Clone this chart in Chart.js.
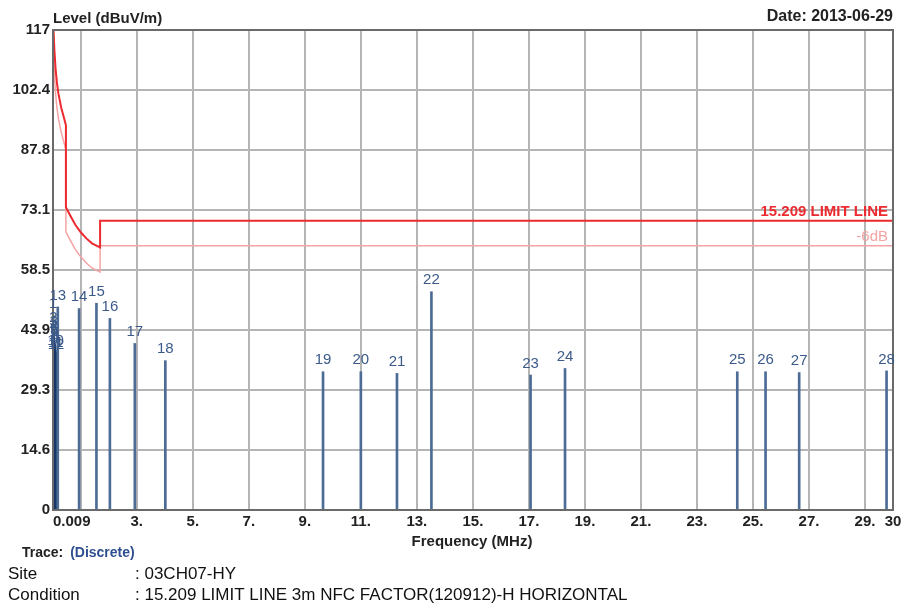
<!DOCTYPE html>
<html>
<head>
<meta charset="utf-8">
<script src="https://cdn.jsdelivr.net/npm/chart.js@4.4.0/dist/chart.umd.min.js"></script>
<style>
  html, body { margin: 0; padding: 0; background: #fff; }
  #wrap { width: 907px; height: 607px; position: relative; }
</style>
</head>
<body>
<div id="wrap"><canvas id="chart" width="907" height="607"></canvas></div>
<script>
// axis ticks
var Y_TICKS = [0, 14.6, 29.3, 43.9, 58.5, 73.1, 87.8, 102.4, 117];
var Y_TICK_LABELS = ['0', '14.6', '29.3', '43.9', '58.5', '73.1', '87.8', '102.4', '117'];
var X_TICKS = [0.009, 1, 3, 5, 7, 9, 11, 13, 15, 17, 19, 21, 23, 25, 27, 29, 30];
var X_TICK_LABELS = ['0.009', '', '3.', '5.', '7.', '9.', '11.', '13.', '15.', '17.', '19.', '21.', '23.', '25.', '27.', '29.', '30'];

// 15.209 limit line and the -6dB line (MHz / dBuV/m)
var LIMIT_FREQ = [0.009, 0.02, 0.034, 0.06, 0.1, 0.15, 0.2, 0.3, 0.4, 0.47, 0.47, 0.6, 0.8, 1.0, 1.2, 1.4, 1.69, 1.69, 30];
var LIMIT_LEVEL = [128.5, 121.6, 117.0, 112.0, 107.6, 104.1, 101.6, 98.1, 95.6, 93.8, 73.8, 72.1, 69.6, 67.7, 66.2, 65.0, 64.0, 70.5, 70.5];
var LIMIT6_LEVEL = [122.5, 115.6, 111.0, 106.0, 101.6, 98.1, 95.6, 92.1, 89.6, 87.8, 67.8, 66.1, 63.6, 61.7, 60.2, 59.0, 58.0, 64.4, 64.4];

// discrete trace markers
var MARKER_NO = [1, 2, 3, 4, 5, 6, 7, 8, 9, 10, 11, 12, 13, 14, 15, 16, 17, 18, 19, 20, 21, 22, 23, 24, 25, 26, 27, 28];
var MARKER_FREQ = [0.012, 0.02, 0.03, 0.04, 0.05, 0.06, 0.07, 0.08, 0.09, 0.1, 0.11, 0.12,
  0.18, 0.94, 1.56, 2.04, 2.93, 4.02, 9.65, 11.0, 12.29, 13.52, 17.06, 18.29, 24.44, 25.45, 26.65, 29.77];
var MARKER_LEVEL = [47.5, 44.0, 43.0, 42.0, 41.0, 40.5, 40.0, 39.5, 39.0, 38.5, 38.0, 37.5,
  49.5, 49.1, 50.4, 46.7, 40.6, 36.4, 33.7, 33.7, 33.3, 53.2, 32.9, 34.5, 33.7, 33.7, 33.5, 33.9];

var FONT = 'Liberation Sans, Arial, sans-serif';
var RED = '#ec2a2f';
var PALE = '#f6a3a3';
var BLUE_TXT = '#3b5a8a';

function pts(xs, ys) {
  return xs.map(function (x, i) { return { x: x, y: ys[i] }; });
}

var barColors = MARKER_NO.map(function (n) { return n <= 12 ? '#17366b' : '#4d6c95'; });

var textPlugin = {
  id: 'texts',
  afterDatasetsDraw: function (chart) {
    var ctx = chart.ctx;
    var area = chart.chartArea;
    var xs = chart.scales.x;
    var ys = chart.scales.y;
    ctx.save();

    // frame
    ctx.strokeStyle = '#6a6a6a';
    ctx.lineWidth = 2;
    ctx.strokeRect(area.left, area.top, area.right - area.left, area.bottom - area.top);

    // marker numbers
    ctx.fillStyle = BLUE_TXT;
    ctx.font = '15px ' + FONT;
    ctx.textAlign = 'center';
    ctx.textBaseline = 'bottom';
    var meta = chart.getDatasetMeta(0);
    meta.data.forEach(function (bar, i) {
      ctx.fillText(String(MARKER_NO[i]), bar.x, bar.y - 4);
    });

    // limit labels
    ctx.textAlign = 'right';
    ctx.textBaseline = 'bottom';
    ctx.font = 'bold 15px ' + FONT;
    ctx.fillStyle = RED;
    ctx.fillText('15.209 LIMIT LINE', area.right - 5, ys.getPixelForValue(LIMIT_LEVEL[LIMIT_LEVEL.length - 1]) - 1);
    ctx.font = '15px ' + FONT;
    ctx.fillStyle = PALE;
    ctx.fillText('-6dB', area.right - 5, ys.getPixelForValue(LIMIT6_LEVEL[LIMIT6_LEVEL.length - 1]) - 1);

    // x tick labels
    ctx.fillStyle = '#222';
    ctx.font = 'bold 15px ' + FONT;
    ctx.textBaseline = 'top';
    X_TICKS.forEach(function (v, i) {
      var px = xs.getPixelForValue(v);
      ctx.textAlign = i === 0 ? 'left' : 'center';
      ctx.fillText(X_TICK_LABELS[i], px, area.bottom + 4);
    });

    // titles
    ctx.textBaseline = 'alphabetic';
    ctx.textAlign = 'left';
    ctx.fillText('Level (dBuV/m)', area.left, 23);
    ctx.textAlign = 'center';
    ctx.fillText('Frequency (MHz)', 472, 546);
    ctx.textAlign = 'right';
    ctx.font = 'bold 16px ' + FONT;
    ctx.fillText('Date: 2013-06-29', area.right, 21);

    // footer
    ctx.textAlign = 'left';
    ctx.font = 'bold 14px ' + FONT;
    ctx.fillStyle = '#222';
    ctx.fillText('Trace:', 22, 557);
    var w = ctx.measureText('Trace: ').width;
    ctx.fillStyle = '#2f4f90';
    ctx.fillText('(Discrete)', 22 + w + 3, 557);
    ctx.fillStyle = '#111';
    ctx.font = '17px ' + FONT;
    ctx.fillText('Site', 8, 579);
    ctx.fillText(': 03CH07-HY', 135, 579);
    ctx.fillText('Condition', 8, 600);
    ctx.fillText(': 15.209 LIMIT LINE 3m NFC FACTOR(120912)-H HORIZONTAL', 135, 600);
    ctx.restore();
  }
};

new Chart(document.getElementById('chart'), {
  data: {
    datasets: [
      {
        type: 'bar',
        data: pts(MARKER_FREQ, MARKER_LEVEL),
        backgroundColor: barColors,
        barThickness: 2,
        borderWidth: 0,
        order: 2
      },
      {
        type: 'line',
        data: pts(LIMIT_FREQ, LIMIT6_LEVEL),
        borderColor: PALE,
        borderWidth: 1.5,
        pointRadius: 0,
        tension: 0,
        order: 1
      },
      {
        type: 'line',
        data: pts(LIMIT_FREQ, LIMIT_LEVEL),
        borderColor: RED,
        borderWidth: 2,
        pointRadius: 0,
        tension: 0,
        order: 0
      }
    ]
  },
  options: {
    responsive: false,
    animation: false,
    layout: { padding: { top: 30, right: 14, bottom: 55, left: 0 } },
    plugins: { legend: { display: false }, tooltip: { enabled: false } },
    scales: {
      x: {
        type: 'linear',
        min: 0.009,
        max: 30,
        offset: false,
        afterBuildTicks: function (scale) {
          scale.ticks = X_TICKS.map(function (v) { return { value: v }; });
        },
        afterFit: function (scale) { scale.height = 42; },
        ticks: { display: false },
        grid: { color: '#b5b5b5', lineWidth: 2, drawTicks: false, offset: false },
        border: { color: '#555', width: 2 }
      },
      y: {
        min: 0,
        max: 117,
        afterBuildTicks: function (scale) {
          scale.ticks = Y_TICKS.map(function (v) { return { value: v }; });
        },
        afterFit: function (scale) { scale.width = 53; },
        ticks: {
          padding: 3,
          color: '#222',
          font: { family: FONT, size: 15, weight: 'bold' },
          callback: function (v) {
            var i = Y_TICKS.indexOf(v);
            return i >= 0 ? Y_TICK_LABELS[i] : '';
          }
        },
        grid: { color: '#b5b5b5', lineWidth: 2, drawTicks: false },
        border: { color: '#555', width: 2 }
      }
    }
  },
  plugins: [textPlugin]
});
</script>
</body>
</html>
